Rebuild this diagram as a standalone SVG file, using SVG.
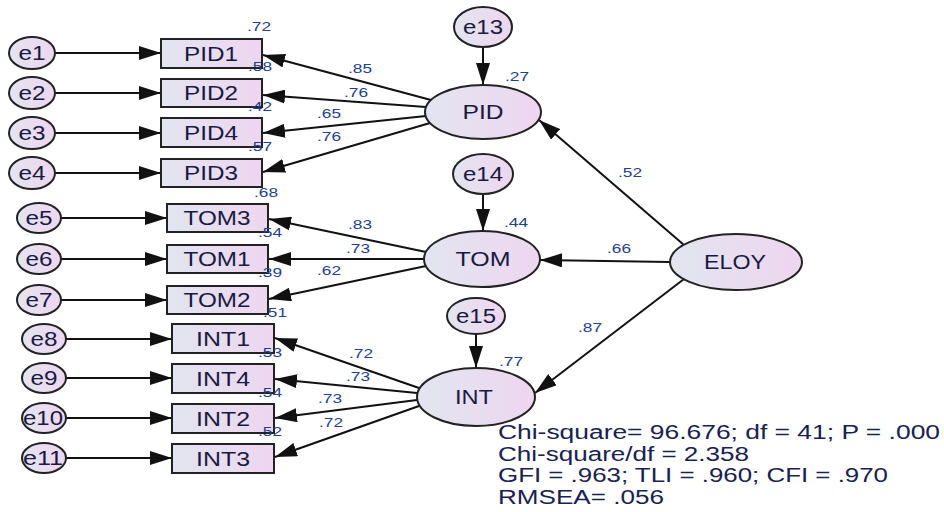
<svg xmlns="http://www.w3.org/2000/svg" width="944" height="512" viewBox="0 0 944 512">
<style>
.n{fill:url(#g);stroke:#222;stroke-width:2}
.c{stroke:#111;stroke-width:2;fill:none;marker-end:url(#ah)}
.t{font-family:"Liberation Sans",Arial,sans-serif;font-size:20px;fill:#1a1a40;text-anchor:middle}
.v{font-family:"Liberation Sans",Arial,sans-serif;font-size:13px;fill:#23408a}
.s{font-family:"Liberation Sans",Arial,sans-serif;font-size:20px;fill:#1a2050}
</style>
<defs>
<linearGradient id="g" x1="0" y1="0" x2="1" y2="0">
<stop offset="0" stop-color="#e2e5f0"/>
<stop offset="1" stop-color="#eed6f0"/>
</linearGradient>
<marker id="ah" markerUnits="userSpaceOnUse" markerWidth="22" markerHeight="14" refX="22" refY="7" orient="auto">
<path d="M0,0 L22,7 L0,14 z" fill="#111"/>
</marker>
</defs>
<rect width="944" height="512" fill="#fff"/>
<g id="connectors">
<path class="c" d="M55,53 L161,53"/>
<path class="c" d="M55,93 L161,93"/>
<path class="c" d="M55,133 L161,133"/>
<path class="c" d="M55,173 L161,173"/>
<path class="c" d="M61,218 L167,218"/>
<path class="c" d="M61,259 L167,259"/>
<path class="c" d="M61,300 L167,300"/>
<path class="c" d="M66,339 L172,339"/>
<path class="c" d="M66,378 L172,378"/>
<path class="c" d="M66,418 L172,418"/>
<path class="c" d="M66,458 L172,458"/>
<path class="c" d="M431,100 L263,55"/>
<path class="c" d="M426,107 L263,95"/>
<path class="c" d="M426,116 L263,133"/>
<path class="c" d="M430,123 L263,172"/>
<path class="c" d="M426,252 L269,219"/>
<path class="c" d="M424,259 L269,259"/>
<path class="c" d="M426,266 L269,299"/>
<path class="c" d="M419,388 L275,338"/>
<path class="c" d="M417,393 L275,379"/>
<path class="c" d="M417,400 L275,418"/>
<path class="c" d="M419,406 L275,457"/>
<path class="c" d="M483,47 L483,85"/>
<path class="c" d="M483,194 L483,231"/>
<path class="c" d="M476,334 L476,368"/>
<path class="c" d="M684,245 L539,120"/>
<path class="c" d="M670,262 L540,260"/>
<path class="c" d="M684,279 L535,393"/>
<text class="v" x="348" y="73" textLength="24" lengthAdjust="spacingAndGlyphs">.85</text>
<text class="v" x="344" y="97" textLength="24" lengthAdjust="spacingAndGlyphs">.76</text>
<text class="v" x="317" y="118" textLength="24" lengthAdjust="spacingAndGlyphs">.65</text>
<text class="v" x="317" y="141" textLength="24" lengthAdjust="spacingAndGlyphs">.76</text>
<text class="v" x="348" y="229" textLength="24" lengthAdjust="spacingAndGlyphs">.83</text>
<text class="v" x="346" y="253" textLength="24" lengthAdjust="spacingAndGlyphs">.73</text>
<text class="v" x="317" y="275" textLength="24" lengthAdjust="spacingAndGlyphs">.62</text>
<text class="v" x="349" y="358" textLength="24" lengthAdjust="spacingAndGlyphs">.72</text>
<text class="v" x="346" y="381" textLength="24" lengthAdjust="spacingAndGlyphs">.73</text>
<text class="v" x="318" y="403" textLength="24" lengthAdjust="spacingAndGlyphs">.73</text>
<text class="v" x="319" y="427" textLength="24" lengthAdjust="spacingAndGlyphs">.72</text>
<text class="v" x="618" y="177" textLength="24" lengthAdjust="spacingAndGlyphs">.52</text>
<text class="v" x="607" y="253" textLength="24" lengthAdjust="spacingAndGlyphs">.66</text>
<text class="v" x="578" y="332" textLength="24" lengthAdjust="spacingAndGlyphs">.87</text>
</g>
<g id="e1"><ellipse class="n" cx="32" cy="53" rx="23" ry="16"/><text class="t" x="32" y="60" textLength="27" lengthAdjust="spacingAndGlyphs">e1</text></g>
<g id="e2"><ellipse class="n" cx="32" cy="93" rx="23" ry="16"/><text class="t" x="32" y="100" textLength="27" lengthAdjust="spacingAndGlyphs">e2</text></g>
<g id="e3"><ellipse class="n" cx="32" cy="133" rx="23" ry="16"/><text class="t" x="32" y="140" textLength="27" lengthAdjust="spacingAndGlyphs">e3</text></g>
<g id="e4"><ellipse class="n" cx="32" cy="173" rx="23" ry="16"/><text class="t" x="32" y="180" textLength="27" lengthAdjust="spacingAndGlyphs">e4</text></g>
<g id="e5"><ellipse class="n" cx="39" cy="218" rx="22" ry="15"/><text class="t" x="39" y="225" textLength="27" lengthAdjust="spacingAndGlyphs">e5</text></g>
<g id="e6"><ellipse class="n" cx="39" cy="259" rx="22" ry="15"/><text class="t" x="39" y="266" textLength="27" lengthAdjust="spacingAndGlyphs">e6</text></g>
<g id="e7"><ellipse class="n" cx="39" cy="300" rx="22" ry="15"/><text class="t" x="39" y="307" textLength="27" lengthAdjust="spacingAndGlyphs">e7</text></g>
<g id="e8"><ellipse class="n" cx="44" cy="339" rx="22" ry="15"/><text class="t" x="44" y="346" textLength="27" lengthAdjust="spacingAndGlyphs">e8</text></g>
<g id="e9"><ellipse class="n" cx="44" cy="378" rx="22" ry="15"/><text class="t" x="44" y="385" textLength="27" lengthAdjust="spacingAndGlyphs">e9</text></g>
<g id="e10"><ellipse class="n" cx="44" cy="418" rx="22" ry="15"/><text class="t" x="43" y="425" textLength="40" lengthAdjust="spacingAndGlyphs">e10</text></g>
<g id="e11"><ellipse class="n" cx="44" cy="458" rx="22" ry="15"/><text class="t" x="43" y="465" textLength="40" lengthAdjust="spacingAndGlyphs">e11</text></g>
<g id="PID1"><rect class="n" x="161" y="39" width="101" height="29"/><text class="t" x="211" y="61" textLength="54" lengthAdjust="spacingAndGlyphs">PID1</text><text class="v" x="247" y="31" textLength="24" lengthAdjust="spacingAndGlyphs">.72</text></g>
<g id="PID2"><rect class="n" x="161" y="79" width="101" height="28"/><text class="t" x="211" y="100" textLength="54" lengthAdjust="spacingAndGlyphs">PID2</text><text class="v" x="248" y="71" textLength="24" lengthAdjust="spacingAndGlyphs">.58</text></g>
<g id="PID4"><rect class="n" x="161" y="118" width="101" height="29"/><text class="t" x="211" y="140" textLength="54" lengthAdjust="spacingAndGlyphs">PID4</text><text class="v" x="248" y="111" textLength="24" lengthAdjust="spacingAndGlyphs">.42</text></g>
<g id="PID3"><rect class="n" x="161" y="159" width="101" height="28"/><text class="t" x="211" y="180" textLength="54" lengthAdjust="spacingAndGlyphs">PID3</text><text class="v" x="248" y="151" textLength="24" lengthAdjust="spacingAndGlyphs">.57</text></g>
<g id="TOM3"><rect class="n" x="167" y="204" width="101" height="28"/><text class="t" x="217" y="225" textLength="67" lengthAdjust="spacingAndGlyphs">TOM3</text><text class="v" x="254" y="197" textLength="24" lengthAdjust="spacingAndGlyphs">.68</text></g>
<g id="TOM1"><rect class="n" x="167" y="245" width="101" height="28"/><text class="t" x="217" y="266" textLength="67" lengthAdjust="spacingAndGlyphs">TOM1</text><text class="v" x="258" y="237" textLength="24" lengthAdjust="spacingAndGlyphs">.54</text></g>
<g id="TOM2"><rect class="n" x="167" y="286" width="101" height="28"/><text class="t" x="217" y="307" textLength="67" lengthAdjust="spacingAndGlyphs">TOM2</text><text class="v" x="258" y="277" textLength="24" lengthAdjust="spacingAndGlyphs">.39</text></g>
<g id="INT1"><rect class="n" x="172" y="324" width="102" height="29"/><text class="t" x="223" y="346" textLength="54" lengthAdjust="spacingAndGlyphs">INT1</text><text class="v" x="263" y="317" textLength="24" lengthAdjust="spacingAndGlyphs">.51</text></g>
<g id="INT4"><rect class="n" x="172" y="364" width="102" height="29"/><text class="t" x="223" y="386" textLength="54" lengthAdjust="spacingAndGlyphs">INT4</text><text class="v" x="258" y="357" textLength="24" lengthAdjust="spacingAndGlyphs">.53</text></g>
<g id="INT2"><rect class="n" x="172" y="404" width="102" height="29"/><text class="t" x="223" y="426" textLength="54" lengthAdjust="spacingAndGlyphs">INT2</text><text class="v" x="258" y="397" textLength="24" lengthAdjust="spacingAndGlyphs">.54</text></g>
<g id="INT3"><rect class="n" x="172" y="444" width="102" height="29"/><text class="t" x="223" y="466" textLength="54" lengthAdjust="spacingAndGlyphs">INT3</text><text class="v" x="258" y="436" textLength="24" lengthAdjust="spacingAndGlyphs">.52</text></g>
<g id="e13"><ellipse class="n" cx="483" cy="27" rx="29" ry="20"/><text class="t" x="483" y="34" textLength="40" lengthAdjust="spacingAndGlyphs">e13</text></g>
<g id="e14"><ellipse class="n" cx="483" cy="174" rx="30" ry="20"/><text class="t" x="483" y="181" textLength="40" lengthAdjust="spacingAndGlyphs">e14</text></g>
<g id="e15"><ellipse class="n" cx="476" cy="316" rx="29" ry="18"/><text class="t" x="476" y="323" textLength="40" lengthAdjust="spacingAndGlyphs">e15</text></g>
<g id="PID"><ellipse class="n" cx="483" cy="112" rx="58" ry="27"/><text class="t" x="483" y="119" textLength="41" lengthAdjust="spacingAndGlyphs">PID</text><text class="v" x="505" y="81" textLength="24" lengthAdjust="spacingAndGlyphs">.27</text></g>
<g id="TOM"><ellipse class="n" cx="482" cy="259" rx="58" ry="28"/><text class="t" x="483" y="266" textLength="55" lengthAdjust="spacingAndGlyphs">TOM</text><text class="v" x="504" y="227" textLength="24" lengthAdjust="spacingAndGlyphs">.44</text></g>
<g id="INT"><ellipse class="n" cx="476" cy="397" rx="59" ry="29"/><text class="t" x="474" y="404" textLength="38" lengthAdjust="spacingAndGlyphs">INT</text><text class="v" x="499" y="366" textLength="24" lengthAdjust="spacingAndGlyphs">.77</text></g>
<g id="ELOY"><ellipse class="n" cx="736" cy="262" rx="66" ry="28"/><text class="t" x="735" y="269" textLength="62" lengthAdjust="spacingAndGlyphs">ELOY</text></g>
<g id="fit">
<text class="s" x="498" y="439" textLength="442" lengthAdjust="spacingAndGlyphs">Chi-square= 96.676; df = 41; P = .000</text>
<text class="s" x="498" y="461" textLength="251" lengthAdjust="spacingAndGlyphs">Chi-square/df = 2.358</text>
<text class="s" x="498" y="482" textLength="390" lengthAdjust="spacingAndGlyphs">GFI = .963; TLI = .960; CFI = .970</text>
<text class="s" x="498" y="504" textLength="166" lengthAdjust="spacingAndGlyphs">RMSEA= .056</text>
</g>
</svg>
